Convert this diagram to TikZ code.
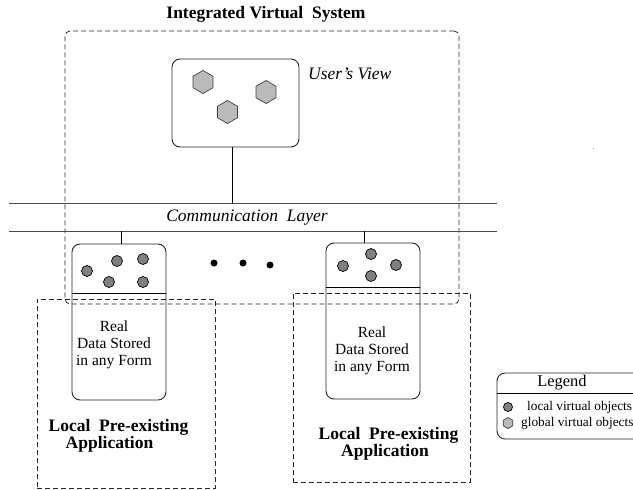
\documentclass[tikz,border=0pt]{standalone}
\usepackage{fontspec}
\setmainfont{Liberation Serif}
\usetikzlibrary{shapes.geometric}

\begin{document}
\begin{tikzpicture}[x=1pt,y=-1pt,
  frame/.style={draw=black!85, line width=0.8pt, dash pattern=on 5pt off 3pt},
  rbox/.style={draw=black!85, line width=0.9pt, rounded corners=8pt, inner sep=0pt},
  globj/.style={regular polygon, regular polygon sides=6, shape border rotate=30,
    draw=black!75, fill=black!27, minimum size=23pt, inner sep=0pt, line width=0.7pt},
  locobj/.style={circle, draw=black, fill=black!50, minimum size=11pt, inner sep=0pt, line width=0.7pt},
  dotmark/.style={circle, fill=black, minimum size=7pt, inner sep=0pt},
  layer/.style={draw=black!70, line width=0.9pt},
  link/.style={draw=black, line width=0.8pt},
  bigbf/.style={font=\bfseries\fontsize{17.5}{17}\selectfont, inner sep=0pt},
  bigit/.style={font=\itshape\fontsize{17.5}{20}\selectfont, inner sep=0pt},
  datatext/.style={font=\fontsize{15.5}{17}\selectfont, align=center, inner sep=0pt},
  legtext/.style={font=\fontsize{13.3}{15}\selectfont, anchor=west, inner sep=0pt}
]
\useasboundingbox (0,0) rectangle (633,490);
\clip (0,0) rectangle (633,490);

% title and the integrated system frame
\node[bigbf] (title) at (266,14) {Integrated Virtual\hspace{0.5em}System};
\node[frame, rounded corners=5pt, minimum width=394pt, minimum height=273pt, inner sep=0pt]
  (ivs) at (262,167.5) {};

% user's view with global objects
\node[rbox, minimum width=127pt, minimum height=88pt] (uv) at (235.5,103) {};
\node[bigit, anchor=west] (uvlabel) at (308,74) {User’s View};
\node[globj] (g1) at (203,82) {};
\node[globj] (g2) at (266,92) {};
\node[globj] (g3) at (227.5,112) {};

% communication layer
\coordinate (ctl) at (9,203);
\coordinate (ctr) at (497,203);
\coordinate (cbl) at (9,231);
\coordinate (cbr) at (497,231);
\draw[layer] (ctl) -- (ctr);
\draw[layer] (cbl) -- (cbr);
\node[bigit] (cl) at (247,218) {Communication\hspace{0.5em}Layer};
\coordinate (uvlink) at (232,203);
\draw[link] (uvlink |- uv.south) -- (uvlink);

% left local application
\node[frame, minimum width=178pt, minimum height=189pt, inner sep=0pt] (appL) at (126,393.5) {};
\node[rbox, minimum width=94pt, minimum height=156pt] (dbL) at (119,322) {};
\coordinate (sepL) at (0,293);
\draw[link] (dbL.west |- sepL) -- (dbL.east |- sepL);
\coordinate (lkL) at (121,231);
\draw[link] (lkL) -- (lkL |- dbL.north);
\node[locobj] (l1) at (87,271) {};
\node[locobj] (l2) at (117,261) {};
\node[locobj] (l3) at (143,259) {};
\node[locobj] (l4) at (109,282) {};
\node[locobj] (l5) at (143,282) {};
\node[datatext] (dtL) at (114,345) {Real\\Data Stored\\in any Form};
\node[bigbf] (nmL1) at (118.5,427) {Local\hspace{0.5em}Pre-existing};
\node[bigbf] (nmL2) at (109.5,444) {Application};

% ellipsis between applications
\node[dotmark] (d1) at (214,263) {};
\node[dotmark] (d2) at (243,263) {};
\node[dotmark] (d3) at (270,265) {};

% right local application
\node[frame, minimum width=177pt, minimum height=189pt, inner sep=0pt] (appR) at (381.5,387.5) {};
\node[rbox, minimum width=94pt, minimum height=156pt] (dbR) at (373,321) {};
\coordinate (sepR) at (0,287);
\draw[link] (dbR.west |- sepR) -- (dbR.east |- sepR);
\coordinate (lkR) at (364,231);
\draw[link] (lkR) -- (lkR |- dbR.north);
\node[locobj] (r1) at (371,254) {};
\node[locobj] (r2) at (343,266) {};
\node[locobj] (r3) at (396,265) {};
\node[locobj] (r4) at (371,276) {};
\node[datatext] (dtR) at (372,351) {Real\\Data Stored\\in any Form};
\node[bigbf] (nmR1) at (388.5,435) {Local\hspace{0.5em}Pre-existing};
\node[bigbf] (nmR2) at (385,452) {Application};

% legend
\node[rbox, minimum width=146pt, minimum height=66pt] (leg) at (570,406) {};
\coordinate (legsep) at (0,393);
\draw[link] (leg.west |- legsep) -- (leg.east |- legsep);
\node[font=\fontsize{16.4}{18}\selectfont, inner sep=0pt] (legtitle) at (562,383) {Legend};
\node[locobj, minimum size=9pt] (legl) at (508,407) {};
\node[legtext] (legltext) at (527,407) {local virtual objects};
\node[globj, minimum size=11pt] (legg) at (508,423) {};
\node[legtext] (leggtext) at (521,423) {global virtual objects};

% stray speck
\fill[black!40] (592.5,147.5) rectangle (594,149);
\end{tikzpicture}
\end{document}
